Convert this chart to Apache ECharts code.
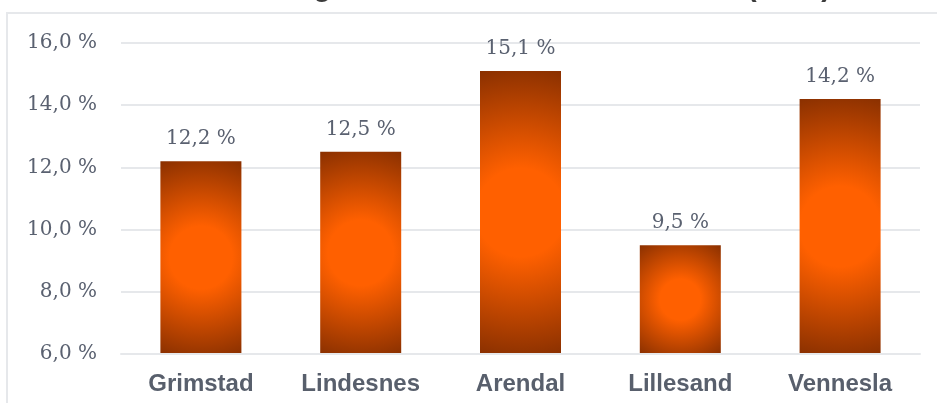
<!DOCTYPE html>
<html>
<head>
<meta charset="utf-8">
<script src="https://cdn.jsdelivr.net/npm/echarts@6/dist/echarts.min.js"></script>
<style>
  html, body { margin: 0; padding: 0; background: #fff; }
  #chart { width: 937px; height: 403px; }
</style>
</head>
<body>
<div id="chart"></div>
<script>
// Chart text and values
const titleText = 'Barn i husholdninger med vedvarende lavinntekt (2021)';
const categories = ['Grimstad', 'Lindesnes', 'Arendal', 'Lillesand', 'Vennesla'];
const values = [12.2, 12.5, 15.1, 9.5, 14.2];
const yMin = 6;
const yMax = 16;
const yStep = 2;

const BAR_WIDTH = 81;
const fmt = v => v.toFixed(1).replace('.', ',') + ' %';

// Radial fill from a bright centre to dark corners; r is relative to the bar's shorter side
function barFill(r) {
  return {
    type: 'radial', x: 0.5, y: 0.5, r: r,
    colorStops: [
      { offset: 0, color: '#ff6000' },
      { offset: 0.3, color: '#ff6000' },
      { offset: 1, color: '#8a3000' }
    ]
  };
}

const chart = echarts.init(document.getElementById('chart'), null, { renderer: 'canvas' });

chart.setOption({
  animation: false,
  backgroundColor: '#fff',
  graphic: [
    { type: 'rect', silent: true, z: -10,
      shape: { x: 7, y: 13, width: 1200, height: 600 },
      style: { fill: 'none', stroke: '#e6e8eb', lineWidth: 2 } },
    { type: 'text', silent: true, x: 67, y: -12,
      style: { text: titleText, font: 'bold 29px "Liberation Sans", Arial, sans-serif',
               fill: '#3b3b3b', textVerticalAlign: 'middle' } }
  ],
  grid: { left: 121, right: 17, top: 43, bottom: 49 },
  xAxis: {
    type: 'category',
    data: categories,
    z: 3,
    axisLine: { show: true, lineStyle: { color: '#e6e8eb', width: 2 } },
    axisTick: { show: false },
    axisLabel: { fontFamily: '"Liberation Sans", Arial, sans-serif', fontWeight: 'bold',
                 fontSize: 24, color: '#585f6c', margin: 18 }
  },
  yAxis: {
    type: 'value',
    min: yMin, max: yMax, interval: yStep,
    axisLabel: { formatter: fmt, fontFamily: '"DejaVu Serif", serif', fontSize: 20,
                 color: '#5a6170', margin: 24 },
    splitLine: { lineStyle: { color: '#e6e8eb', width: 2 } }
  },
  series: [{
    type: 'bar',
    data: values,
    barWidth: BAR_WIDTH,
    itemStyle: { color: barFill(1) },
    label: { show: true, position: 'top', distance: 12, formatter: p => fmt(p.value),
             fontFamily: '"DejaVu Serif", serif', fontSize: 20, color: '#5a6170' }
  }]
});

// Size each bar's gradient so it reaches the bar corners
const base = chart.convertToPixel({ seriesIndex: 0 }, [0, yMin])[1];
const styled = values.map((v, i) => {
  const top = chart.convertToPixel({ seriesIndex: 0 }, [i, v])[1];
  const h = base - top, w = BAR_WIDTH;
  const r = Math.sqrt(w * w + h * h) / 2 / Math.min(w, h);
  return { value: v, itemStyle: { color: barFill(r) } };
});
chart.setOption({ series: [{ data: styled }] });
</script>
</body>
</html>
